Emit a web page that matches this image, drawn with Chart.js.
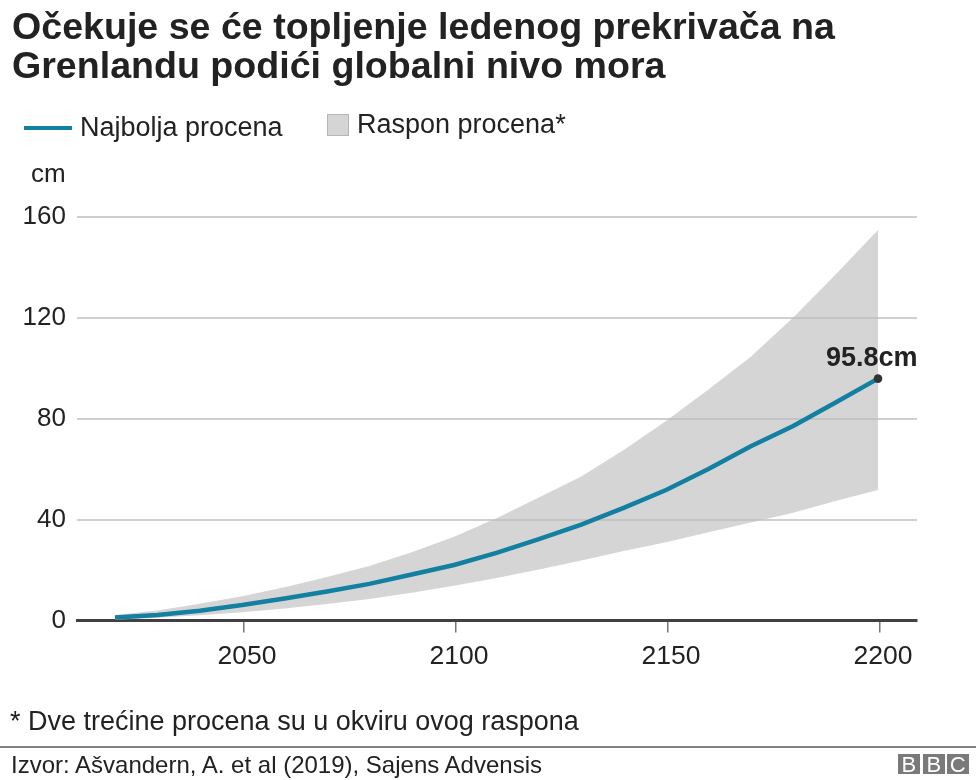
<!DOCTYPE html>
<html>
<head>
<meta charset="utf-8">
<script src="https://cdn.jsdelivr.net/npm/chart.js@4"></script>
<style>
  body { margin: 0; background: #fff; font-family: "Liberation Sans", Arial, sans-serif; color: #222; }
  #wrap { position: relative; width: 976px; height: 780px; overflow: hidden; }
  #wrap div { position: absolute; white-space: nowrap; }
  canvas { position: absolute; left: 0; top: 0; }
  .title { left: 12px; top: 7px; font-size: 37.6px; line-height: 39px; font-weight: bold; color: #222; }
  .leg { font-size: 27px; line-height: 30px; }
  .logo { width: 21.5px; height: 20px; top: 754px; background: #7a7a7a; color: #fff; font-size: 22px; line-height: 21px; text-align: center; }
</style>
</head>
<body>
<div id="wrap">
  <canvas id="chart" width="976" height="780"></canvas>
  <div class="title">Očekuje se će topljenje ledenog prekrivača na<br>Grenlandu podići globalni nivo mora</div>
  <div style="left:24px;top:126px;width:48px;height:4px;background:#1380a1"></div>
  <div class="leg" style="left:80px;top:112px">Najbolja procena</div>
  <div style="left:327px;top:114px;width:20px;height:20px;background:#d5d5d5;border:1px solid #b5b5b5"></div>
  <div class="leg" style="left:357px;top:109px">Raspon procena*</div>
  <div class="leg" style="left:31px;top:158px;font-size:26px">cm</div>
  <div class="leg" style="left:10px;top:706px">* Dve trećine procena su u okviru ovog raspona</div>
  <div style="left:0;top:746px;width:976px;height:2px;background:#808080"></div>
  <div style="left:11px;top:751px;font-size:24px;line-height:28px">Izvor: Ašvandern, A. et al (2019), Sajens Advensis</div>
  <div class="logo" style="left:898px">B</div>
  <div class="logo" style="left:923px">B</div>
  <div class="logo" style="left:947px">C</div>
</div>
<script>
// Data
const years = [2020, 2030, 2040, 2050, 2060, 2070, 2080, 2090, 2100, 2110, 2120, 2130, 2140, 2150, 2160, 2170, 2180, 2190, 2200];
const bestEstimate = [1.2, 2.2, 3.9, 6.1, 8.7, 11.5, 14.5, 18.2, 22, 26.8, 32.2, 38, 44.6, 51.7, 60, 69, 77, 86.3, 95.8];
const rangeHigh = [2.2, 4, 6.6, 9.6, 13.2, 17.2, 21.6, 27, 33.2, 40.5, 48.7, 57, 67.5, 79, 91.5, 104.5, 120, 137, 154.7];
const rangeLow = [0.2, 1.1, 2.1, 3.3, 4.8, 6.5, 8.5, 11, 13.8, 16.8, 20.2, 23.8, 27.5, 31, 35, 38.8, 42.7, 47.3, 51.7];
const xTicks = [2050, 2100, 2150, 2200];
const yTicks = [0, 40, 80, 120, 160];
const endLabel = '95.8cm';

// U originalu su crtice ose malo desno od podataka
const tickShift = 0.45;

const toPoints = (arr) => arr.map((v, i) => ({ x: years[i], y: v }));

// Label at the end of the line
const endLabelPlugin = {
    id: 'endLabel',
    afterDatasetsDraw(chart) {
        const last = years.length - 1;
        const px = chart.scales.x.getPixelForValue(years[last]);
        const py = chart.scales.y.getPixelForValue(bestEstimate[last]);
        const ctx = chart.ctx;
        ctx.save();
        ctx.font = 'bold 27px "Liberation Sans"';
        ctx.fillStyle = '#222';
        ctx.textAlign = 'right';
        ctx.textBaseline = 'alphabetic';
        ctx.fillText(endLabel, px + 39.5, py - 13);
        ctx.restore();
    }
};

new Chart(document.getElementById('chart').getContext('2d'), {
    type: 'line',
    data: {
        datasets: [
            {
                label: 'Najbolja procena',
                data: toPoints(bestEstimate),
                borderColor: '#1380a1',
                borderWidth: 4.5,
                tension: 0,
                fill: false,
                pointRadius: (c) => (c.dataIndex === years.length - 1 ? 4.3 : 0),
                pointBackgroundColor: '#333',
                pointBorderWidth: 0
            },
            {
                label: 'Raspon procena*',
                data: toPoints(rangeHigh),
                borderWidth: 0,
                tension: 0,
                pointRadius: 0,
                fill: '+1',
                backgroundColor: 'rgba(190, 190, 190, 0.65)'
            },
            {
                label: 'low',
                data: toPoints(rangeLow),
                borderWidth: 0,
                tension: 0,
                pointRadius: 0,
                fill: false
            }
        ]
    },
    options: {
        responsive: false,
        animation: false,
        layout: { padding: { top: 216.5, right: 59 } },
        plugins: { legend: { display: false }, tooltip: { enabled: false } },
        scales: {
            x: {
                type: 'linear',
                min: 2011.04,
                max: 2209.2,
                afterFit: (s) => { s.height = 159.5; },
                afterBuildTicks: (s) => { s.ticks = xTicks.map((v) => ({ value: v + tickShift })); },
                border: { color: '#404040', width: 3 },
                grid: { drawOnChartArea: false, tickLength: 12, color: '#777', lineWidth: 1.5 },
                ticks: {
                    color: '#222',
                    font: { size: 26.5, family: '"Liberation Sans"' },
                    padding: 8,
                    labelOffset: 3,
                    maxRotation: 0,
                    callback: (v) => String(Math.floor(v))
                }
            },
            y: {
                min: 0,
                max: 160,
                afterFit: (s) => { s.width = 77; },
                afterBuildTicks: (s) => { s.ticks = yTicks.map((v) => ({ value: v })); },
                border: { display: false },
                grid: { color: (c) => (c.tick.value === 0 ? 'rgba(0,0,0,0)' : '#cfcfcf'), lineWidth: 2, drawTicks: false },
                ticks: { color: '#222', font: { size: 26, family: '"Liberation Sans"' }, padding: 11 }
            }
        }
    },
    plugins: [endLabelPlugin]
});
</script>
</body>
</html>
